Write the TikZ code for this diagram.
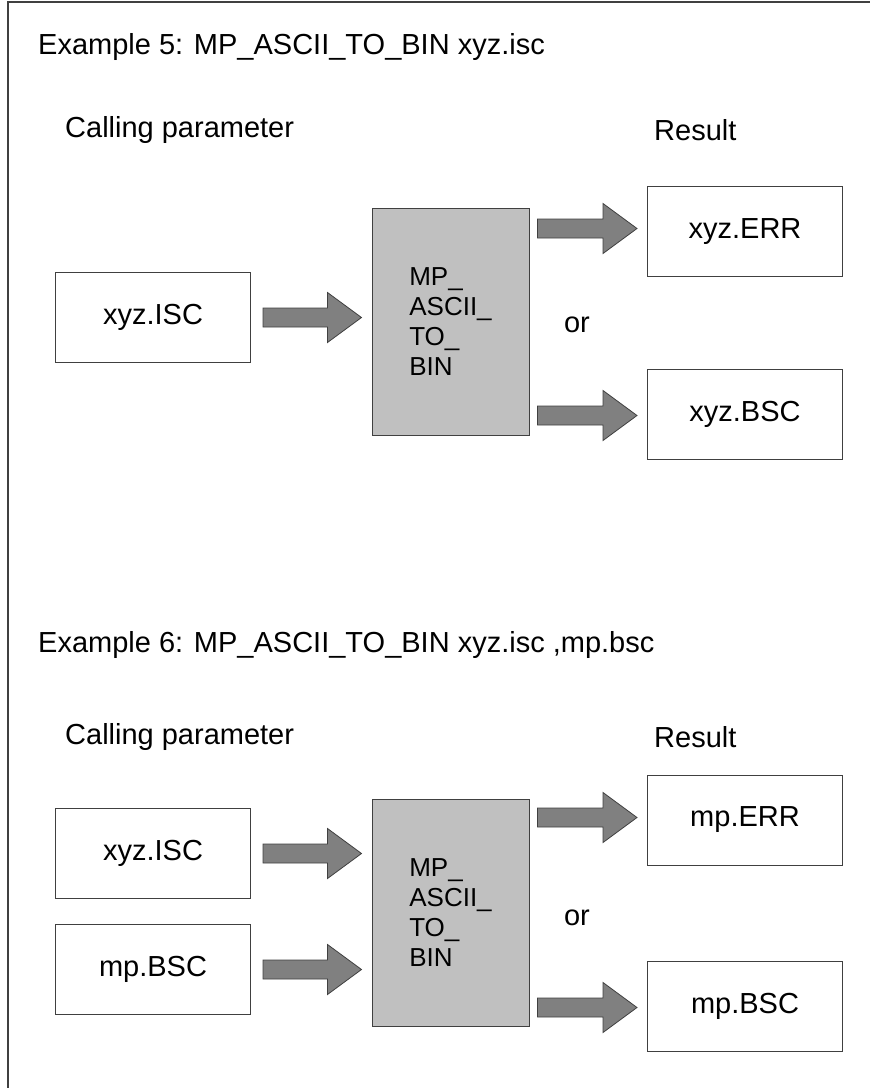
\documentclass[tikz,border=0pt]{standalone}
\usepackage{fontspec}
\setmainfont{Liberation Sans}
\usepackage{tikz}
\usetikzlibrary{calc}

\definecolor{boxline}{HTML}{404040}
\definecolor{progfill}{HTML}{C0C0C0}
\definecolor{arrowfill}{HTML}{808080}

\begin{document}
\begin{tikzpicture}[x=1pt, y=-1pt, font=\fontsize{29}{34}\selectfont,
		file/.style={draw=boxline, line width=1pt, minimum width=195pt, minimum height=90pt, inner sep=0pt},
		prog/.style={draw=boxline, fill=progfill, line width=1pt, minimum width=157pt, minimum height=227pt,
			align=left, inner sep=0pt, font=\fontsize{26}{30}\selectfont},
		label/.style={anchor=west, inner sep=0pt},
		fatarrow/.style={draw=boxline, fill=arrowfill, line width=0.8pt, to path={
			let \p1=(\tikztostart), \p2=(\tikztotarget) in
			(\x1,\y1+9.5pt) -- (\x2-34pt,\y1+9.5pt) -- (\x2-34pt,\y1+25pt) -- (\x2,\y1)
			-- (\x2-34pt,\y1-25pt) -- (\x2-34pt,\y1-9.5pt) -- (\x1,\y1-9.5pt) -- cycle}}]
		\useasboundingbox (0,0) rectangle (870,1088);
		\draw[boxline, line width=1.5pt] (8,1100) |- (900,2);

		% Example 5
		\node[label] (title5) at (38,47) {Example 5: MP\_ASCII\_TO\_BIN xyz.isc};
		\node[label] (call5) at (65,130) {Calling parameter};
		\node[label] (res5) at (654,130) {Result};
		\node[file] (isc5) at (153,317.5) {xyz.ISC};
		\node[prog] (mid5) at (450.5,321.5) {MP\_\\ASCII\_\\TO\_\\BIN};
		\node[file] (err5) at (745,231.5) {xyz.ERR};
		\node[file] (bsc5) at (745,414.5) {xyz.BSC};
		\node (or5) at (577,325) {or};

		\draw[fatarrow] ($(isc5.east)+(12,0)$) to ($(isc5.east -| mid5.west)+(-10,0)$);
		\draw[fatarrow] ($(mid5.north east)+(8,21)$) to ($(err5.west |- mid5.north)+(-10,21)$);
		\draw[fatarrow] ($(mid5.south east)+(8,-20)$) to ($(bsc5.west |- mid5.south)+(-10,-20)$);

		% Example 6
		\node[label] (title6) at (38,645) {Example 6: MP\_ASCII\_TO\_BIN xyz.isc ,mp.bsc};
		\node[label] (call6) at (65,737) {Calling parameter};
		\node[label] (res6) at (654,737) {Result};
		\node[file] (isc6) at (153,853.5) {xyz.ISC};
		\node[file] (mpb6) at (153,969.5) {mp.BSC};
		\node[prog] (mid6) at (450.5,912.5) {MP\_\\ASCII\_\\TO\_\\BIN};
		\node[file] (err6) at (745,820) {mp.ERR};
		\node[file] (bsc6) at (745,1006.5) {mp.BSC};
		\node (or6) at (577,918) {or};

		\draw[fatarrow] ($(isc6.east)+(12,0)$) to ($(isc6.east -| mid6.west)+(-10,0)$);
		\draw[fatarrow] ($(mpb6.east)+(12,0)$) to ($(mpb6.east -| mid6.west)+(-10,0)$);
		\draw[fatarrow] ($(mid6.north east)+(8,19)$) to ($(err6.west |- mid6.north)+(-10,19)$);
		\draw[fatarrow] ($(mid6.south east)+(8,-19)$) to ($(bsc6.west |- mid6.south)+(-10,-19)$);
	\end{tikzpicture}
\end{document}
